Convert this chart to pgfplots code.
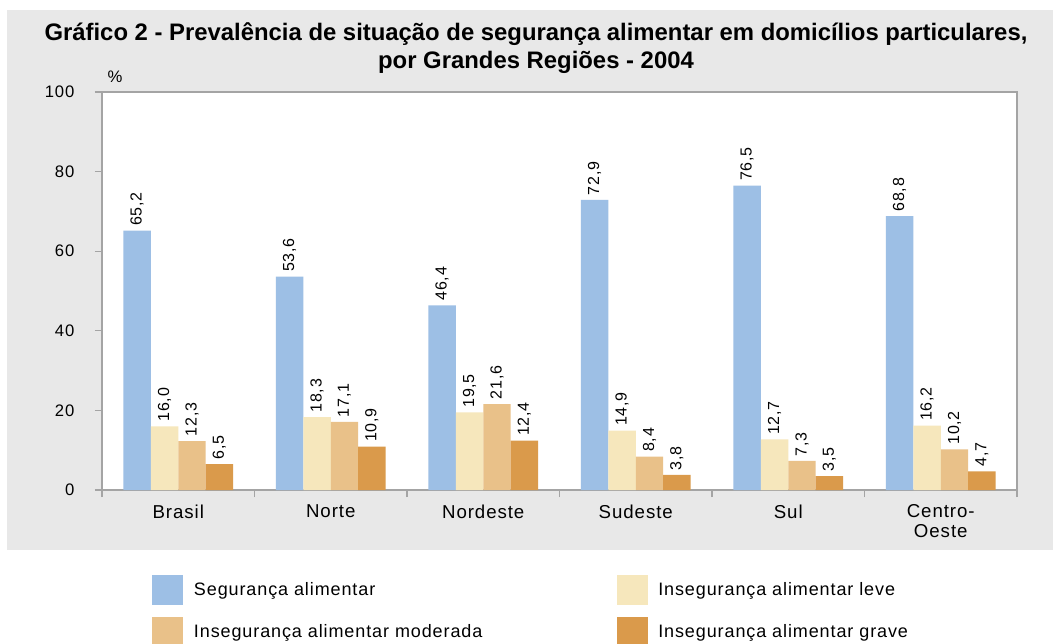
\documentclass[border=0pt]{standalone}
\usepackage{pgfplots}
\pgfplotsset{compat=1.18}
\usepackage{fontspec}
\setmainfont[LetterSpace=5]{Liberation Sans}
\newfontfamily\titlefont{Liberation Sans}
\definecolor{bg}{HTML}{E8E8E8}
\definecolor{cseg}{HTML}{9DBFE5}
\definecolor{cleve}{HTML}{F6E7BC}
\definecolor{cmod}{HTML}{E9C189}
\definecolor{cgrav}{HTML}{DA9A4B}
\definecolor{axisgray}{HTML}{A4A4A4}

\begin{document}
\begin{tikzpicture}
% pixel grid of the reference: 1 px = 0.75pt, y counted from the top
\begin{scope}[x=0.75pt, y=-0.75pt, shift={(0pt,482.25pt)}]
  \fill[bg] (7,10) rectangle (1053,550);
  \node[font=\titlefont\bfseries\fontsize{17.9}{21}\selectfont, align=center]
    at (536,48) {Gráfico 2 - Prevalência de situação de segurança alimentar em domicílios particulares,\\
    por Grandes Regiões - 2004};
  \node[font=\fontsize{12.5}{15}\selectfont] at (115,77) {\%};
\end{scope}

\begin{axis}[
  at={(76.5pt,114.75pt)}, anchor=south west,
  scale only axis,
  width=686.25pt, height=298.5pt,
  ybar=0pt, bar width=0.18,
  xmin=-0.5, xmax=5.5,
  ymin=0, ymax=100,
  ytick={0,20,40,60,80,100},
  xtick={0,1,2,3,4,5},
  xticklabels={Brasil,Norte,Nordeste,Sudeste,Sul,{Centro-\\Oeste}},
  x tick style={draw=none},
  extra x ticks={-0.5,0.5,1.5,2.5,3.5,4.5,5.5},
  extra x tick labels={},
  extra x tick style={x tick style={draw=axisgray, line width=0.9pt}},
  xtick pos=bottom, ytick pos=left,
  tick align=outside,
  major tick length=5.25pt,
  y tick style={draw=axisgray, line width=0.9pt},
  axis line style={draw=axisgray, line width=0.9pt},
  axis background/.style={fill=white},
  xticklabel style={align=center, font=\fontsize{14}{15}\selectfont, yshift=-2.25pt},
  yticklabel style={font=\fontsize{12.5}{14}\selectfont, xshift=-12pt},
  /pgf/number format/assume math mode=true,
  nodes near coords,
  nodes near coords style={rotate=90, anchor=west, font=\fontsize{12}{14}\selectfont,
    /pgf/number format/.cd, use comma, fixed, fixed zerofill, precision=1},
  legend columns=2,
  legend style={at={(0.0503,-0.2071)}, anchor=north west, draw=none, fill=none,
    nodes={inner sep=0pt}, font=\fontsize{13.5}{15}\selectfont,
    /tikz/every odd column/.append style={column sep=8pt},
    row sep=9pt},
  legend image code/.code={\fill[#1,draw=none] (0pt,-11.25pt) rectangle (23.25pt,11.25pt);},
]
\addplot[fill=cseg, draw=none] coordinates {(0,65.2) (1,53.6) (2,46.4) (3,72.9) (4,76.5) (5,68.8)};
\addlegendentry{\makebox[317pt][l]{Segurança alimentar}}
\addplot[fill=cleve, draw=none] coordinates {(0,16.0) (1,18.3) (2,19.5) (3,14.9) (4,12.7) (5,16.2)};
\addlegendentry{\makebox[200pt][l]{Insegurança alimentar leve}}
\addplot[fill=cmod, draw=none] coordinates {(0,12.3) (1,17.1) (2,21.6) (3,8.4) (4,7.3) (5,10.2)};
\addlegendentry{\makebox[317pt][l]{Insegurança alimentar moderada}}
\addplot[fill=cgrav, draw=none] coordinates {(0,6.5) (1,10.9) (2,12.4) (3,3.8) (4,3.5) (5,4.7)};
\addlegendentry{\makebox[200pt][l]{Insegurança alimentar grave}}
\end{axis}
\pgfresetboundingbox
\useasboundingbox (0pt,0pt) rectangle (789.75pt,482.25pt);
\end{tikzpicture}
\end{document}
